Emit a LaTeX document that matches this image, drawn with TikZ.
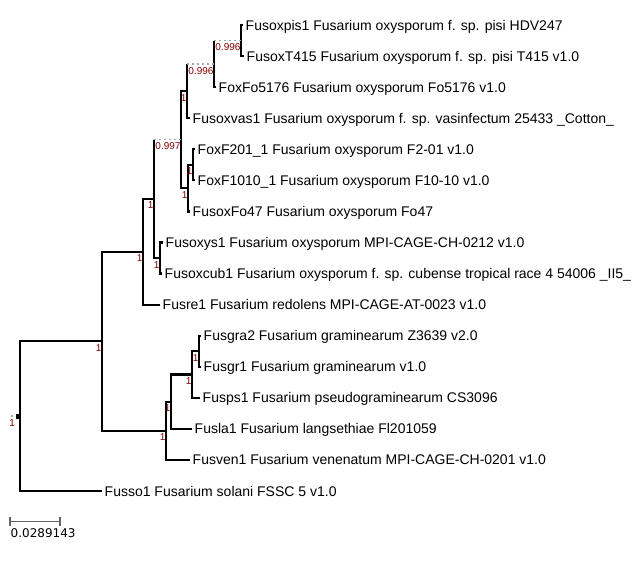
\documentclass[tikz,border=0pt]{standalone}
\usepackage{fontspec}
\setmainfont{Liberation Sans}
\newfontfamily\scalebarfont{DejaVu Sans}
\usetikzlibrary{calc}
\definecolor{suppred}{RGB}{135,0,0}
\definecolor{bargray}{RGB}{100,100,100}
\tikzset{
  branch/.style = {line width=2.2pt, black},
  dotbranch/.style = {line width=1.8pt, black!35, dash pattern=on 1.8pt off 3.2pt},
  leaf/.style = {anchor=west, inner xsep=2.5pt, inner ysep=0pt,
                 text height=10pt, text depth=0pt,
                 font=\fontsize{14}{16}\selectfont},
  supp/.style = {anchor=north east, inner sep=0pt, xshift=-0.3pt, yshift=-3pt,
                 text=suppred, font=\fontsize{10}{12}\selectfont}
}

\begin{document}
\begin{tikzpicture}[x=1pt, y=-1pt]
	\def\dy{31.07}
	\useasboundingbox (0,0) rectangle (636,566);

	% Leaves
	\node[leaf] (pis)   at (243, 25+0*\dy)  {Fusoxpis1 Fusarium oxysporum f. sp. pisi HDV247};
	\node[leaf] (t415)  at (244, 25+1*\dy)  {FusoxT415 Fusarium oxysporum f. sp. pisi T415 v1.0};
	\node[leaf] (fo5176) at (216, 25+2*\dy) {FoxFo5176 Fusarium oxysporum Fo5176 v1.0};
	\node[leaf] (vas)   at (190, 25+3*\dy)  {Fusoxvas1 Fusarium oxysporum f. sp. vasinfectum 25433 \_Cotton\_};
	\node[leaf] (f201)  at (195, 25+4*\dy)  {FoxF201\_1 Fusarium oxysporum F2-01 v1.0};
	\node[leaf] (f1010) at (195, 25+5*\dy)  {FoxF1010\_1 Fusarium oxysporum F10-10 v1.0};
	\node[leaf] (fo47)  at (190, 25+6*\dy)  {FusoxFo47 Fusarium oxysporum Fo47};
	\node[leaf] (oxys)  at (163, 25+7*\dy)  {Fusoxys1 Fusarium oxysporum MPI-CAGE-CH-0212 v1.0};
	\node[leaf] (cub)   at (162, 25+8*\dy)  {Fusoxcub1 Fusarium oxysporum f. sp. cubense tropical race 4 54006 \_II5\_};
	\node[leaf] (re)    at (160, 25+9*\dy)  {Fusre1 Fusarium redolens MPI-CAGE-AT-0023 v1.0};
	\node[leaf] (gra)   at (201, 25+10*\dy) {Fusgra2 Fusarium graminearum Z3639 v2.0};
	\node[leaf] (gr)    at (201, 25+11*\dy) {Fusgr1 Fusarium graminearum v1.0};
	\node[leaf] (ps)    at (200, 25+12*\dy) {Fusps1 Fusarium pseudograminearum CS3096};
	\node[leaf] (la)    at (192, 25+13*\dy) {Fusla1 Fusarium langsethiae Fl201059};
	\node[leaf] (ven)   at (190, 25+14*\dy) {Fusven1 Fusarium venenatum MPI-CAGE-CH-0201 v1.0};
	\node[leaf] (so)    at (102, 25+15*\dy) {Fusso1 Fusarium solani FSSC 5 v1.0};

	% Inner nodes
	\coordinate (n1) at (241, 25+0.5*\dy);
	\coordinate (n2) at (214, 25+1.25*\dy);
	\coordinate (n3) at (187, 25+2.125*\dy);
	\coordinate (n4) at (193, 25+4.5*\dy);
	\coordinate (n5) at (188, 25+5.25*\dy);
	\coordinate (n6) at (181, 25+3.6875*\dy);
	\coordinate (n7) at (160, 25+7.5*\dy);
	\coordinate (n8) at (154, 25+5.59375*\dy);
	\coordinate (n9) at (143, 25+7.296875*\dy);
	\coordinate (m1) at (199, 25+10.5*\dy);
	\coordinate (m2) at (192, 25+11.25*\dy);
	\coordinate (m3) at (171, 25+12.125*\dy);
	\coordinate (m4) at (166, 25+13.0625*\dy);
	\coordinate (r1) at (102, 25+10.1796875*\dy);
	\coordinate (root) at (20, 25+12.58984375*\dy);

	% Branches (oxysporum clade)
	\draw[branch] (n1) |- (pis.west);
	\draw[branch] (n1) |- (t415.west);
	\draw[branch] (n2) -- (n2 |- n1);
	\draw[dotbranch] (n2 |- n1) -- (n1);
	\draw[branch] (n2) |- (fo5176.west);
	\draw[branch] (n3) -- (n3 |- n2);
	\draw[dotbranch] (n3 |- n2) -- (n2);
	\draw[branch] (n3) |- (vas.west);
	\draw[branch] (n4) |- (f201.west);
	\draw[branch] (n4) |- (f1010.west);
	\draw[branch] (n5) |- (n4);
	\draw[branch] (n5) |- (fo47.west);
	\draw[branch] (n6) |- (n3);
	\draw[branch] (n6) |- (n5);
	\draw[branch] (n7) |- (oxys.west);
	\draw[branch] (n7) |- (cub.west);
	\draw[branch] (n8) -- (n8 |- n6);
	\draw[dotbranch] (n8 |- n6) -- (n6);
	\draw[branch] (n8) |- (n7);
	\draw[branch] (n9) |- (n8);
	\draw[branch] (n9) |- (re.west);

	% Branches (graminearum clade)
	\draw[branch] (m1) |- (gra.west);
	\draw[branch] (m1) |- (gr.west);
	\draw[branch] (m2) |- (m1);
	\draw[branch] (m2) |- (ps.west);
	\draw[branch] (m3) |- (m2);
	\draw[branch] (m3) |- (la.west);
	\draw[branch] (m4) |- (m3);
	\draw[branch] (m4) |- (ven.west);

	% Root
	\draw[branch] (r1) |- (n9);
	\draw[branch] (r1) |- (m4);
	\draw[branch] (root) |- (r1);
	\draw[branch] (root) |- (so.west);
	\fill[black] ($(root)+(-4.5,-2.5)$) rectangle ($(root)+(0,2.5)$);
	\fill[black!35] ($(root)+(-9.5,-1.5)$) rectangle ($(root)+(-7.5,0.5)$);

	% Support values
	\node[supp] (s1) at (n1) {0.996};
	\node[supp] (s2) at (n2) {0.996};
	\node[supp] (s3) at (n3) {1};
	\node[supp] (s4) at (n4) {1};
	\node[supp] (s5) at (n5) {1};
	\node[supp] (s6) at (n6) {0.997};
	\node[supp] (s7) at (n7) {1};
	\node[supp] (s8) at (n8) {1};
	\node[supp] (s9) at (n9) {1};
	\node[supp] (t1) at (m1) {1};
	\node[supp] (t2) at (m2) {1};
	\node[supp] (t3) at (m3) {1};
	\node[supp] (t4) at (m4) {1};
	\node[supp] (t5) at (r1) {1};
	\node[supp, xshift=-4.5pt] (t0) at (root) {1};

	% Scale bar
	\coordinate (sb0) at (10, 521.5);
	\coordinate (sb1) at (60, 521.5);
	\draw[bargray, line width=1.8pt] (sb0) -- (sb1);
	\draw[bargray, line width=1.5pt] ($(sb0)+(0,-4.5)$) -- ($(sb0)+(0,4.5)$);
	\draw[bargray, line width=1.5pt] ($(sb1)+(0,-4.5)$) -- ($(sb1)+(0,4.5)$);
	\node[anchor=north west, inner sep=0pt, font=\scalebarfont\fontsize{12}{14}\selectfont]
		(sblabel) at ($(sb0)+(0.5,7)$) {0.0289143};
\end{tikzpicture}
\end{document}
